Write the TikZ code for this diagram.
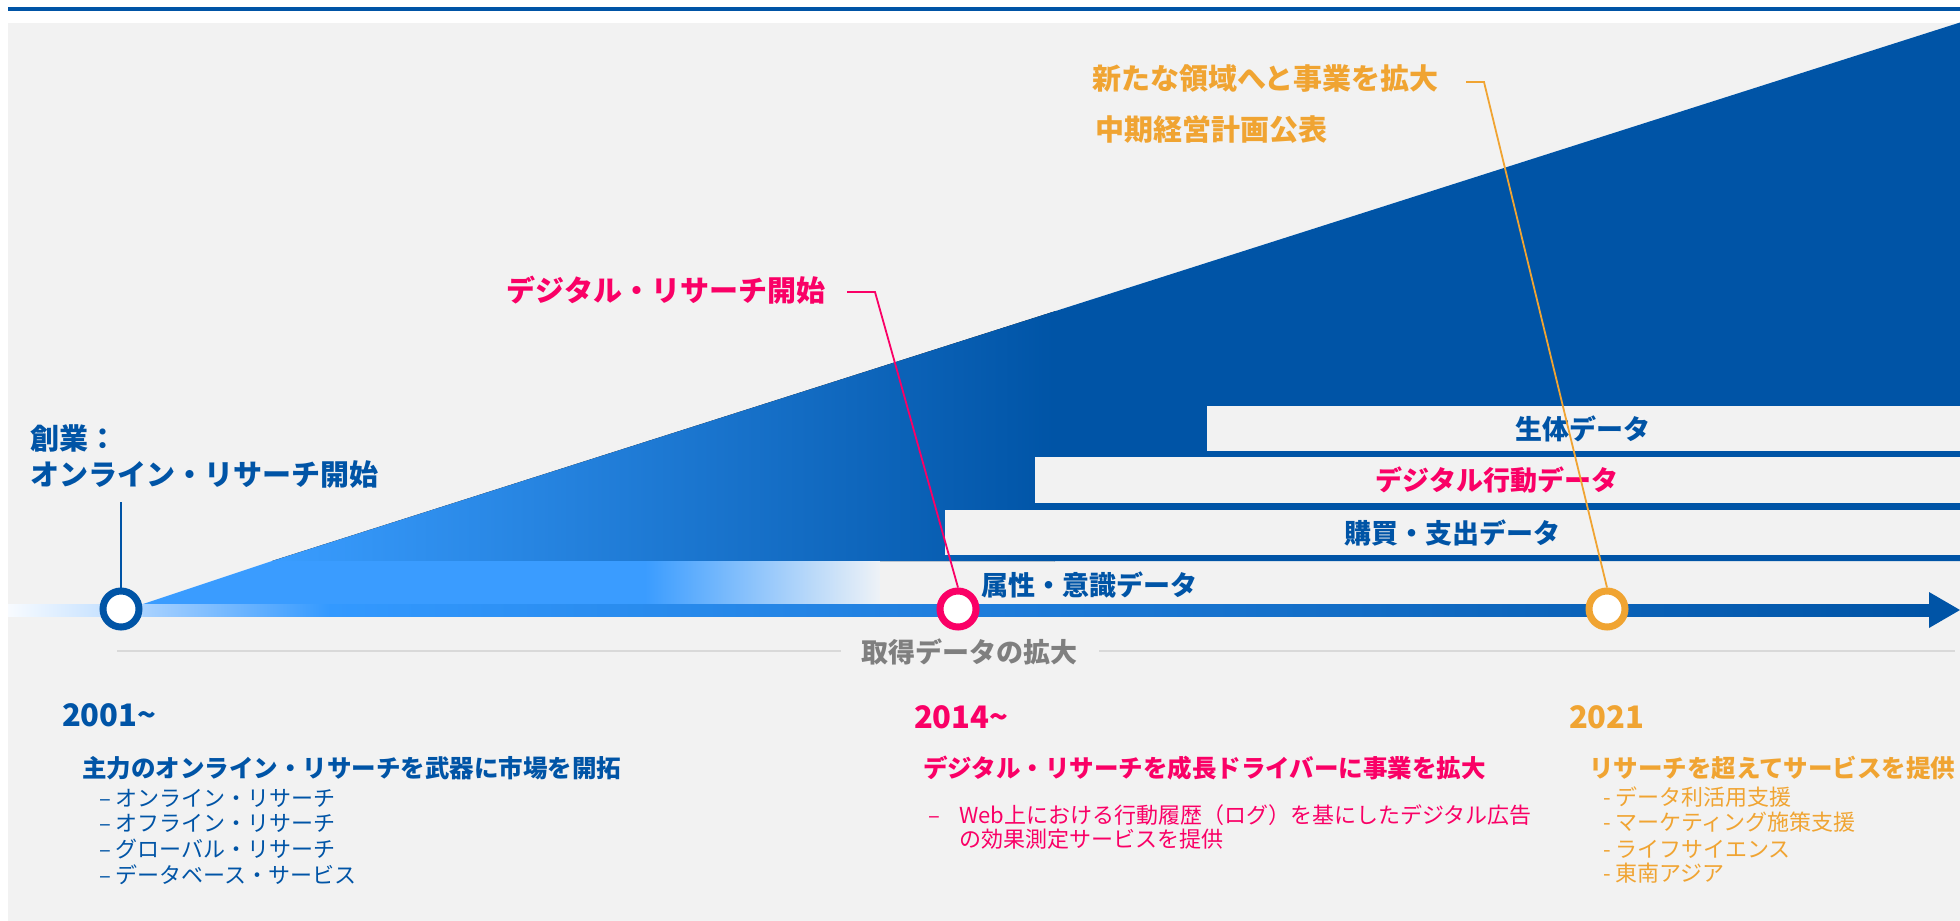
\documentclass[tikz,border=0pt]{standalone}
\usepackage{fontspec}
\setmainfont{Noto Sans CJK JP}
\definecolor{nblue}{HTML}{0054A6}
\definecolor{npink}{HTML}{FA0066}
\definecolor{norange}{HTML}{F0A432}
\definecolor{bg}{HTML}{F2F2F2}
\definecolor{tri1}{HTML}{3A9DFF}
\definecolor{band}{HTML}{3A9CFF}
\definecolor{bandend}{HTML}{EEF2F7}
\definecolor{bar0}{HTML}{F8FBFF}
\definecolor{bar1}{HTML}{B4D8FF}
\definecolor{bar2}{HTML}{A9D2FF}
\definecolor{bar3}{HTML}{3399FF}
\definecolor{gtext}{HTML}{7F7F7F}
\definecolor{gline}{HTML}{D9D9D9}
\tikzset{
  tx/.style={inner sep=0pt, outer sep=0pt},
  t29/.style={tx, font=\bfseries\fontsize{29}{34}\selectfont},
  t27/.style={tx, font=\bfseries\fontsize{27}{32}\selectfont},
  t24/.style={tx, font=\bfseries\fontsize{24.5}{29}\selectfont},
  t22/.style={tx, font=\fontsize{22}{26}\selectfont},
  ty/.style={tx, font=\bfseries\fontsize{31}{36}\selectfont},
  ring/.style={circle, minimum size=36pt, inner sep=0pt, line width=7pt, fill=white},
  callout/.style={line width=1.8pt},
}
\begin{document}
\begin{tikzpicture}[x=1pt,y=-1pt]
\useasboundingbox (0,0) rectangle (1960,921);
\fill[white] (0,0) rectangle (1960,921);
\fill[bg] (8,23) rectangle (1960,921);
\fill[nblue] (8,6.5) rectangle (1960,10.5);

% big triangle
\begin{scope}
  \clip (272,561) -- (1960,22.5) -- (1960,561) -- cycle;
  \fill[left color=tri1, right color=nblue] (270,20) rectangle (1055,562);
  \fill[nblue] (1054,20) rectangle (1961,562);
\end{scope}
% lower band
\begin{scope}
  \clip (272,561) -- (143,604) -- (880,604) -- (880,561) -- cycle;
  \fill[band] (140,560) rectangle (646,605);
  \fill[left color=band, right color=bandend] (645,560) rectangle (880,605);
\end{scope}

% data rows
\fill[bg] (1207,406) rectangle (1960,451);
\fill[bg] (1035,457) rectangle (1960,503);
\fill[bg] (945,510) rectangle (1960,555);

% timeline bar
\fill[left color=bar0, right color=bar1] (8,604) rectangle (143.5,616);
\fill[left color=bar2, right color=bar3] (143,604) rectangle (330.5,616);
\fill[left color=bar3, right color=nblue] (330,604) rectangle (1930,616);
\fill[nblue] (1929,592) -- (1960,610) -- (1929,628) -- cycle;

% separator
\node[t27, gtext] (gx) at (969,652) {取得データの拡大};
\coordinate (g1) at (117,651);
\coordinate (g2) at (841,651);
\coordinate (g3) at (1099,651);
\coordinate (g4) at (1955,651);
\draw[gline, line width=1.5pt] (g1) -- (g2);
\draw[gline, line width=1.5pt] (g3) -- (g4);

% row labels
\node[t27, nblue] (r1) at (1583,429) {生体データ};
\node[t27, npink] (r2) at (1497,480) {デジタル行動データ};
\node[t27, nblue] (r3) at (1452,533) {購買・支出データ};
\node[t27, nblue, anchor=west] (r4) at (981,585) {属性・意識データ};

% milestones
\node[ring, draw=nblue] (c1) at (121,609) {};
\node[ring, draw=npink] (c2) at (958,609) {};
\node[ring, draw=norange] (c3) at (1607,609) {};

% callouts
\node[t29, nblue, anchor=west] (s1) at (30,438) {創業：};
\node[t29, nblue, anchor=west] (s2) at (30,475) {オンライン・リサーチ開始};
\coordinate (b1) at (121,502);
\draw[nblue, line width=2pt] (b1) -- (c1.north);

\node[t29, npink, anchor=east] (dr) at (825,290) {デジタル・リサーチ開始};
\coordinate (p0) at (847,292);
\coordinate (p1) at (875,292);
\draw[npink, callout] (p0) -- (p1) -- (c2.north);

\node[t29, norange, anchor=west] (n1) at (1092,79) {新たな領域へと事業を拡大};
\node[t29, norange, anchor=west] (n2) at (1095,129) {中期経営計画公表};
\coordinate (o0) at (1466,82);
\coordinate (o1) at (1484,82);
\draw[norange, callout] (o0) -- (o1) -- (c3.north);

% 2001
\node[ty, nblue, anchor=west] (y1) at (62,715) {2001\string~};
\node[t24, nblue, anchor=west] (h1) at (82,768) {主力のオンライン・リサーチを武器に市場を開拓};
\node[t22, nblue, anchor=west] (l11) at (99,798) {– オンライン・リサーチ};
\node[t22, nblue, anchor=west] (l12) at (99,823) {– オフライン・リサーチ};
\node[t22, nblue, anchor=west] (l13) at (99,849) {– グローバル・リサーチ};
\node[t22, nblue, anchor=west] (l14) at (99,875) {– データベース・サービス};

% 2014
\node[ty, npink, anchor=west] (y2) at (914,717) {2014\string~};
\node[t24, npink, anchor=west] (h2) at (923,768) {デジタル・リサーチを成長ドライバーに事業を拡大};
\node[t22, npink, anchor=west] (l21) at (959,815) {Web上における行動履歴（ログ）を基にしたデジタル広告};
\node[t22, npink, anchor=base west] (l2d) at ([xshift=-31pt]l21.base west) {–};
\node[t22, npink, anchor=west] (l22) at (959,839) {の効果測定サービスを提供};

% 2021
\node[ty, norange, anchor=west] (y3) at (1569,717) {2021};
\node[t24, norange, anchor=west] (h3) at (1589,768) {リサーチを超えてサービスを提供};
\node[t22, norange, anchor=west] (l31) at (1603,797) {- データ利活用支援};
\node[t22, norange, anchor=west] (l32) at (1603,822) {- マーケティング施策支援};
\node[t22, norange, anchor=west] (l33) at (1603,849) {- ライフサイエンス};
\node[t22, norange, anchor=west] (l34) at (1603,873) {- 東南アジア};
\end{tikzpicture}
\end{document}
